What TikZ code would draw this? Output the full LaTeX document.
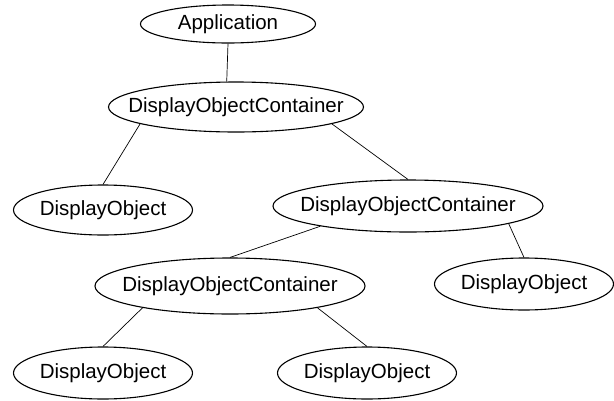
\documentclass[tikz,border=0pt]{standalone}
\usepackage{fontspec}
\setmainfont{Liberation Sans}
\usetikzlibrary{shapes.geometric}
\tikzset{>=latex}

\begin{document}
\begin{tikzpicture}[x=1pt,y=-1pt,
  obj/.style={ellipse, draw, line width=1.1pt, inner xsep=-120pt, inner ysep=0pt,
    font=\fontsize{20.5}{24}\selectfont},
  leaf/.style={obj, minimum width=179pt, minimum height=52pt},
  cont/.style={obj, minimum width=270pt, minimum height=54pt},
  link/.style={line width=0.7pt}]

  \useasboundingbox (0,0) rectangle (614,400);

  % Nodes
  \node[obj, minimum width=175pt, minimum height=38pt] (app) at (228,24) {Application};
  \node[cont, minimum width=255pt, minimum height=50pt] (doc1) at (236,107) {DisplayObjectContainer};
  \node[leaf, minimum height=50pt] (do1) at (103,210) {DisplayObject};
  \node[cont, minimum height=52pt] (doc2) at (408,206) {DisplayObjectContainer};
  \node[leaf] (do2) at (524,284) {DisplayObject};
  \node[cont, minimum height=56pt] (doc3) at (230,286) {DisplayObjectContainer};
  \node[leaf] (do3) at (103,373) {DisplayObject};
  \node[leaf] (do4) at (367,373) {DisplayObject};

  % Edges
  \draw[link] (app.south) -- (doc1.110);
  \draw[link] (doc1.190) -- (do1.north);
  \draw[link] (doc1.350) -- (doc2.north);
  \draw[link] (doc2.193) -- (doc3.north);
  \draw[link] (doc2.350) -- (do2.north);
  \draw[link] (doc3.194) -- (do3.north);
  \draw[link] (doc3.346) -- (do4.north);

\end{tikzpicture}
\end{document}
